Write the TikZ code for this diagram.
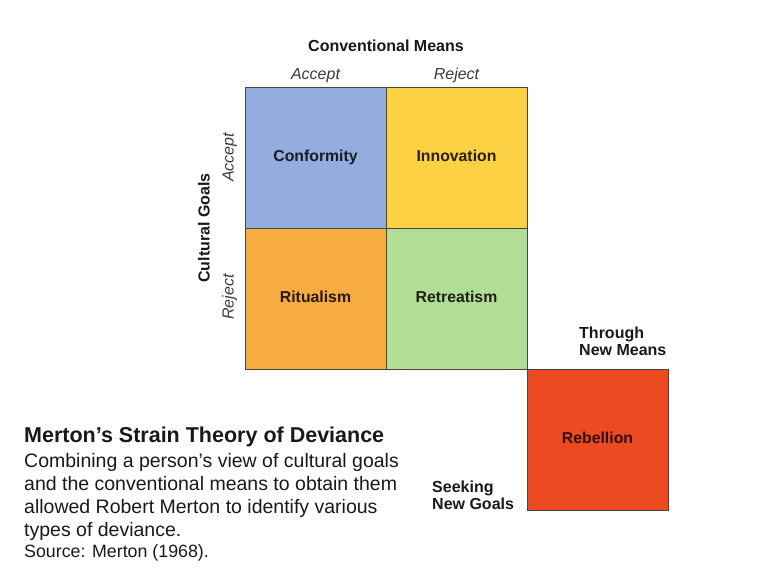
\documentclass[tikz,border=0pt]{standalone}
\usepackage{fontspec}
\setmainfont{Liberation Sans}
\usetikzlibrary{positioning}

\definecolor{confblue}{RGB}{148,173,223}
\definecolor{innoyellow}{RGB}{252,210,68}
\definecolor{ritorange}{RGB}{247,172,66}
\definecolor{retgreen}{RGB}{177,221,149}
\definecolor{rebred}{RGB}{237,74,34}
\definecolor{gridline}{RGB}{70,68,60}
\definecolor{inkgray}{RGB}{25,25,25}

\begin{document}
\begin{tikzpicture}[
    x=1pt, y=-1pt,
    node distance=0pt,
    cell/.style={rectangle, draw=gridline, line width=0.9pt, minimum width=141pt, minimum height=141pt, inner sep=0pt, outer sep=0pt, text height=0.72em, text depth=0.02em, font=\fontsize{15.8}{18}\selectfont\bfseries},
    heading/.style={font=\fontsize{16}{17}\selectfont\bfseries, text=inkgray, inner sep=0pt},
    choice/.style={font=\fontsize{16}{18}\selectfont\itshape, text=inkgray!85, text height=0.72em, text depth=0.22em},
    caption/.style={align=left, inner sep=0pt, text=inkgray}
]

\useasboundingbox (0,0) rectangle (768,587);

% Cells
\node[cell, fill=confblue, text=confblue!15!black] (conf) at (315.5,157.5) {Conformity};
\node[cell, fill=innoyellow, text=innoyellow!15!black, right=of conf] (inno) {Innovation};
\node[cell, fill=ritorange, text=ritorange!15!black, below=of conf] (ritu) {Ritualism};
\node[cell, fill=retgreen, text=retgreen!15!black, right=of ritu] (retr) {Retreatism};
\node[cell, fill=rebred, text=rebred!20!black, below right=of retr] (rebel) {Rebellion};

% Conventional means
\node[heading] (means) at (386,46) {Conventional Means};
\node[choice, above=2pt of conf] (macc) {Accept};
\node[choice, above=2pt of inno] (mrej) {Reject};

% Cultural goals
\node[heading, rotate=90] (goals) at (204,228) {Cultural Goals};
\node[choice, rotate=90] (gacc) at (231,157.5) {Accept};
\node[choice, rotate=90] (grej) at (231,297) {Reject};

% New goals and means
\node[heading, anchor=north west, align=left] (newmeans) at (579,327) {Through\\New Means};
\node[heading, anchor=north west, align=left] (newgoals) at (432,481) {Seeking\\New Goals};

% Caption
\node[caption, anchor=base west, font=\fontsize{21.5}{24}\selectfont\bfseries] (title) at (24,442) {Merton’s Strain Theory of Deviance};
\node[caption, font=\fontsize{19.5}{23}\selectfont, below=6pt of title.south west, anchor=north west] (body)
    {Combining a person’s view of cultural goals\\and the conventional means to obtain them\\allowed Robert Merton to identify various\\types of deviance.};
\node[caption, font=\fontsize{17.8}{20}\selectfont, below=4pt of body.south west, anchor=north west] (source) {Source: Merton (1968).};

\end{tikzpicture}
\end{document}
